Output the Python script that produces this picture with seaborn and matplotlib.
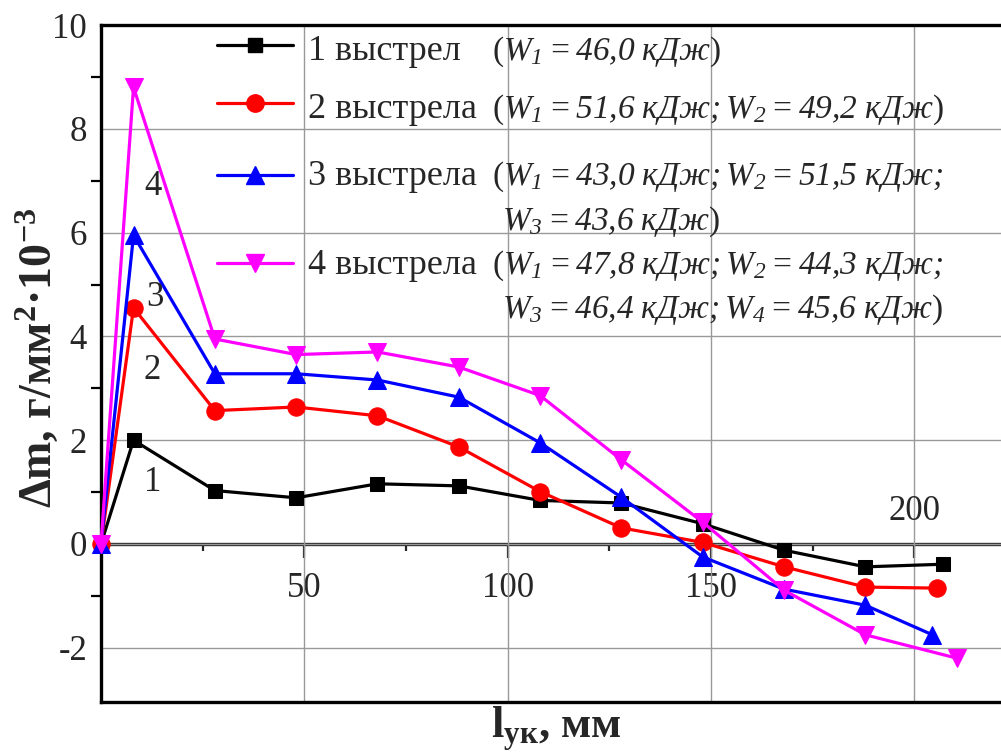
import matplotlib
matplotlib.use('Agg')
import matplotlib.pyplot as plt
import seaborn as sns
import pandas as pd
from matplotlib.ticker import FixedLocator

# ---------------- data ----------------
x1 = [0, 8, 28, 48, 68, 88, 108, 128, 148, 168, 188, 207]
y1 = [0, 2.0, 1.03, 0.89, 1.16, 1.12, 0.84, 0.79, 0.39, -0.12, -0.44, -0.39]
x2 = [0, 8, 28, 48, 68, 88, 108, 128, 148, 168, 188, 205.5]
y2 = [0, 4.55, 2.57, 2.64, 2.47, 1.87, 1.01, 0.31, 0.03, -0.44, -0.83, -0.85]
x3 = [0, 8, 28, 48, 68, 88, 108, 128, 148, 168, 188, 204.5]
y3 = [0, 5.95, 3.28, 3.28, 3.16, 2.83, 1.95, 0.9, -0.25, -0.87, -1.18, -1.75]
x4 = [0, 8, 28, 48, 68, 88, 108, 128, 148, 168, 188, 210.5]
y4 = [0, 8.8, 3.95, 3.65, 3.7, 3.41, 2.86, 1.62, 0.42, -0.89, -1.75, -2.2]

series_names = ["1 выстрел", "2 выстрела", "3 выстрела", "4 выстрела"]
series_x = [x1, x2, x3, x4]
series_y = [y1, y2, y3, y4]
colors = ["#000000", "#ff0000", "#0000ff", "#ff00ff"]
markers = ["s", "o", "^", "v"]
msizes = [10.5, 12.5, 13.5, 13.5]

legend_energy = [
    [r"($W_1 = 46{,}0\ кДж$)"],
    [r"($W_1 = 51{,}6\ кДж; W_2 = 49{,}2\ кДж$)"],
    [r"($W_1 = 43{,}0\ кДж; W_2 = 51{,}5\ кДж;$", r"$W_3 = 43{,}6\ кДж$)"],
    [r"($W_1 = 47{,}8\ кДж; W_2 = 44{,}3\ кДж;$", r"$W_3 = 46{,}4\ кДж; W_4 = 45{,}6\ кДж$)"],
]

xticks_major = [50, 100, 150, 200]
xtick_labels = ["50", "100", "150", ""]
xticks_minor = [25, 75, 125, 175]
yticks_major = [-2, 0, 2, 4, 6, 8, 10]
ytick_labels = ["-2", "0", "2", "4", "6", "8", "10"]
yticks_minor = [-1, 1, 3, 5, 7, 9]
curve_labels = ["1", "2", "3", "4"]
curve_label_pos = [(12.8, 1.19), (12.5, 3.35), (13.3, 4.74), (12.8, 6.88)]

# ---------------- style ----------------
sns.set_style("white")
plt.rcParams['font.family'] = ['Liberation Serif', 'DejaVu Serif']
plt.rcParams['mathtext.fontset'] = 'custom'
plt.rcParams['mathtext.rm'] = 'Liberation Serif:italic'
plt.rcParams['mathtext.it'] = 'Liberation Serif:italic'
plt.rcParams['mathtext.bf'] = 'Liberation Serif:bold'

W, H = 1001, 755
fig = plt.figure(figsize=(W / 100, H / 100), dpi=100)
L, R, T, B = 101, 1001, 25, 702
ax = fig.add_axes([L / W, 1 - B / H, (R - L) / W, (B - T) / H])

px_per_x = 4.066
px_per_y = 51.9

# series
for xs, ys, c, m, ms in zip(series_x, series_y, colors, markers, msizes):
    df = pd.DataFrame({"x": xs, "y": ys})
    sns.lineplot(data=df, x="x", y="y", ax=ax, color=c, marker=m, markersize=ms,
                 markeredgecolor=c, linewidth=2.3, clip_on=False, zorder=3,
                 estimator=None, sort=False)

ax.set_xlim(0, (R - L) / px_per_x)
ax.set_ylim(-(B - 544) / px_per_y, 10)

# grid / ticks
ax.set_xticks(xticks_major)
ax.set_yticks(yticks_major)
ax.set_yticklabels(ytick_labels)
ax.yaxis.set_minor_locator(FixedLocator(yticks_minor))
ax.grid(True, which='major', color='#999999', linewidth=1.0)
ax.set_axisbelow(True)
ax.tick_params(axis='x', which='both', bottom=False, labelbottom=False)
ax.tick_params(axis='y', which='major', length=11, width=1.6, direction='out',
               pad=-1, labelsize=25, color='black')
ax.tick_params(axis='y', which='minor', length=7, width=1.6, direction='out',
               color='black', left=True)
for s in ['top', 'left', 'bottom']:
    ax.spines[s].set_linewidth(2.4)
    ax.spines[s].set_color('black')
ax.spines['right'].set_visible(False)

# x axis through y = 0
sec = ax.secondary_xaxis(0, transform=ax.transData)
sec.set_xticks(xticks_major)
sec.set_xticklabels(xtick_labels)
sec.xaxis.set_minor_locator(FixedLocator(xticks_minor))
sec.spines['bottom'].set_linewidth(2.4)
sec.tick_params(axis='x', which='major', length=10, width=1.6, direction='out',
                pad=10, labelsize=25)
sec.tick_params(axis='x', which='minor', length=5, width=1.6, direction='out')

# curve numbers
for lab, (cx, cy) in zip(curve_labels, curve_label_pos):
    ax.text(cx, cy, lab, ha='center', va='center', fontsize=25)
ax.text(200, 0.62, "200", ha='center', va='center', fontsize=25)

# manual legend
def axc(px, py):
    return ((px - L) / (R - L), (B - py) / (B - T))

handle_y = [45, 103, 175, 263]
first_base = [60, 118, 185, 274]
second_base = [None, None, 230, 318]
for i in range(4):
    hx = [axc(p, 0)[0] for p in (217, 255, 293)]
    hy = [axc(0, handle_y[i])[1]] * 3
    ax.plot(hx, hy, color=colors[i], marker=markers[i], markersize=msizes[i],
            markeredgecolor=colors[i], markevery=[1], linewidth=2.3,
            transform=ax.transAxes, clip_on=False, zorder=4)
    tx, ty = axc(308, first_base[i])
    ax.text(tx, ty, series_names[i], transform=ax.transAxes, va='baseline',
            ha='left', fontsize=26)
    tx, ty = axc(492, first_base[i])
    ax.text(tx, ty, legend_energy[i][0], transform=ax.transAxes, va='baseline',
            ha='left', fontsize=24)
    if len(legend_energy[i]) > 1:
        tx, ty = axc(502, second_base[i])
        ax.text(tx, ty, legend_energy[i][1], transform=ax.transAxes,
                va='baseline', ha='left', fontsize=24)

# axis labels
ax.set_ylabel(r"Δm, г/мм$^{\mathbf{2}}$·10$^{\mathbf{-3}}$", fontsize=33,
              fontweight='bold')
ax.yaxis.set_label_coords(-0.045, 0.508)
ax.set_xlabel(r"l$_{\mathbf{ук}}$, мм", fontsize=32, fontweight='bold')
ax.xaxis.label.set_visible(True)
ax.xaxis.set_label_coords(0.506, -0.004)

fig.savefig("out.png", dpi=100)
